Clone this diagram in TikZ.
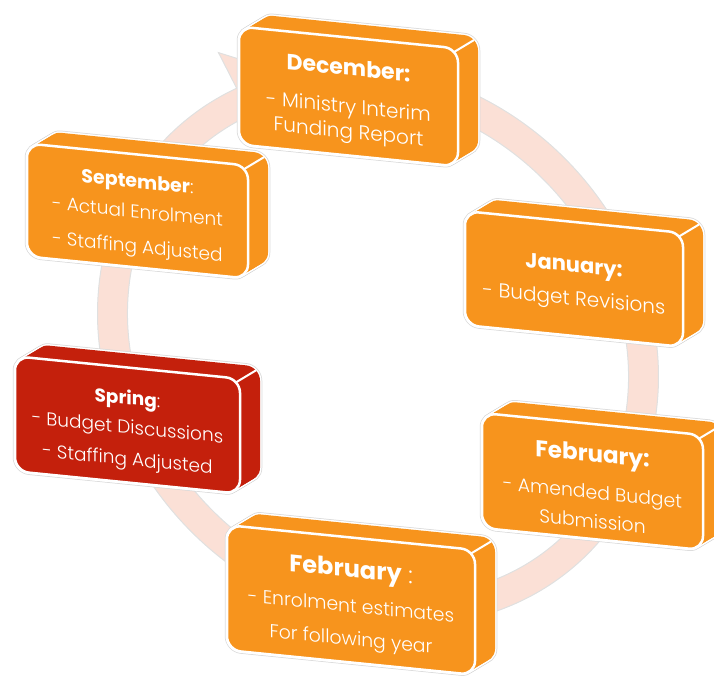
\documentclass[tikz,border=0pt]{standalone}
\usepackage{fontspec}
\setmainfont{Poppins Light}[BoldFont=Poppins Bold]
\definecolor{stageorange}{HTML}{F7941D}
\definecolor{stagered}{HTML}{C4200C}
\definecolor{ringpink}{HTML}{FBE0D6}

% 3D stage block: name, centre, width, height, colour, body font, text
\newcommand{\stagebox}[7]{%
  \begin{scope}[shift={#2}, yslant=-0.1]
    \foreach \s in {10,...,0}
      \draw[black!15, line width=4.5pt, rounded corners=14pt] (2*\s-#3/2, 1.4*\s-#4/2) rectangle ++(#3,#4);
    \foreach \s in {10,...,0}
      \draw[white, line width=3pt, rounded corners=14pt] (2*\s-#3/2, 1.4*\s-#4/2) rectangle ++(#3,#4);
    \foreach \s in {10,...,0}
      \fill[#5, rounded corners=14pt] (2*\s-#3/2, 1.4*\s-#4/2) rectangle ++(#3,#4);
    \draw[white, line width=2pt] (#3/2-4, #4/2-4) -- ++(20,14);
    \draw[stageface, fill=#5] (-#3/2, -#4/2) rectangle ++(#3,#4);
    \node[stagetext, font=#6] (#1) at (0,-5) {#7};
  \end{scope}}

\begin{document}
\begin{tikzpicture}[x=1pt, y=1pt,
  stageface/.style={draw=white, line width=2.5pt, rounded corners=14pt},
  stagetext/.style={text=white, align=center, inner sep=0pt, transform shape}]
  \useasboundingbox (0,0) rectangle (714,681);
  % ring arrow behind the stages
  \begin{scope}[shift={(378,336)}, rotate=-45]
    \fill[ringpink, draw=black!12, line width=1pt] (125:296 and 264)
      arc[start angle=485, end angle=162, x radius=296, y radius=264]
      -- (162:336 and 304) -- (146:281 and 249) -- (162:266 and 234)
      arc[start angle=162, end angle=485, x radius=266, y radius=234] -- cycle;
  \end{scope}
  % stages
  \stagebox{sep}{(137.5,470)}{221}{113}{stageorange}{\fontsize{18.5}{30}\selectfont}%
    {{\fontsize{19}{30}\selectfont\textbf{September}:}\\- Actual Enrolment\\[5pt]- Staffing Adjusted}
  \stagebox{spr}{(127.5,256)}{225}{115}{stagered}{\fontsize{18.5}{29}\selectfont}%
    {{\fontsize{18.5}{29}\selectfont\textbf{Spring}:}\\- Budget Discussions\\[3pt]- Staffing Adjusted}
  \stagebox{febb}{(351,81)}{248}{125}{stageorange}{\fontsize{18.8}{33}\selectfont}%
    {{\fontsize{24}{33}\selectfont\textbf{February} :}\\[2pt]- Enrolment estimates\\For following year}
  \stagebox{febr}{(592.5,199.5)}{221}{115}{stageorange}{\fontsize{18.8}{29}\selectfont}%
    {{\bfseries\fontsize{23}{29}\selectfont February:}\\[8pt]- Amended Budget\\Submission}
  \stagebox{jan}{(574,402)}{218}{114}{stageorange}{\fontsize{20}{24}\selectfont}%
    {{\bfseries\fontsize{21}{24}\selectfont January:}\\[9pt]- Budget Revisions}
  \stagebox{dec}{(348.5,584.5)}{219}{118}{stageorange}{\fontsize{20}{25}\selectfont}%
    {{\bfseries\fontsize{22}{25}\selectfont December:}\\[13pt]- Ministry Interim\\Funding Report}
\end{tikzpicture}
\end{document}
